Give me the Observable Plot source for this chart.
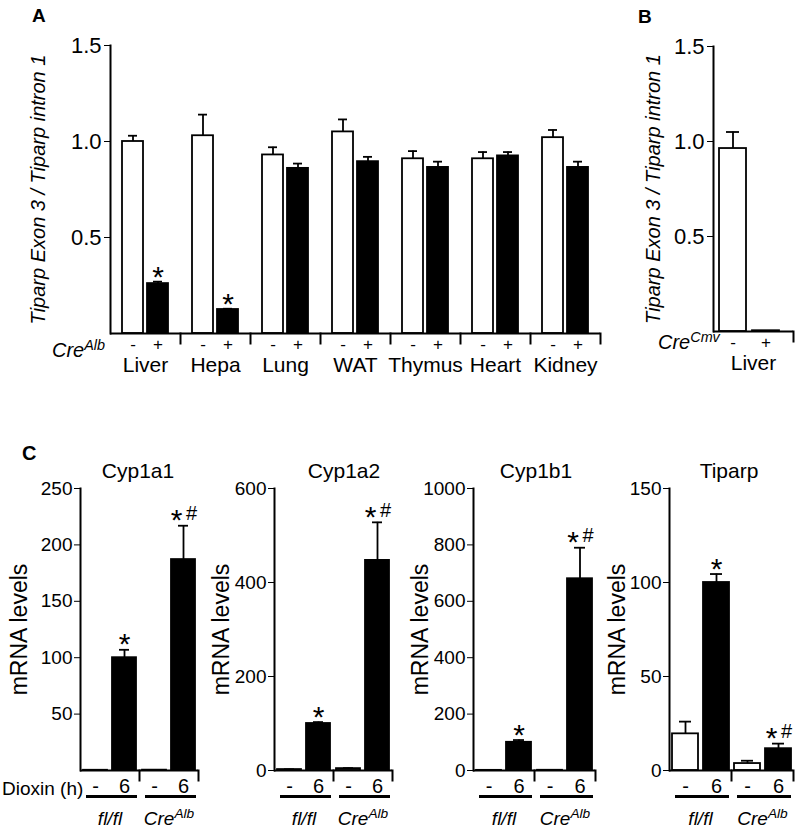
<!DOCTYPE html>
<html><head><meta charset="utf-8">
<script src="https://cdn.jsdelivr.net/npm/d3@7"></script>
<script src="https://cdn.jsdelivr.net/npm/@observablehq/plot@0.6"></script>
<style>
body{margin:0;background:#fff;}
#fig{position:relative;width:800px;height:829px;overflow:hidden;font-family:"Liberation Sans",Arial,Helvetica,sans-serif;color:#000;background:#fff;}
.p{position:absolute;}
.lab{position:absolute;white-space:nowrap;line-height:1;}
.sup{position:relative;font-size:0.72em;top:-0.5em;}
</style></head><body><div id="fig"></div>
<script>
// ---------- Panel A data ----------
const organs = ["Liver","Hepa","Lung","WAT","Thymus","Heart","Kidney"];
const creAlbGroups = ["-","+"];
const aNeg    = [1.00, 1.03, 0.93, 1.05, 0.91, 0.91, 1.02];
const aNegErr = [0.03, 0.11, 0.04, 0.065, 0.04, 0.035, 0.04];
const aPos    = [0.26, 0.125, 0.86, 0.895, 0.865, 0.925, 0.865];
const aPosErr = [0.01, 0.004, 0.025, 0.025, 0.03, 0.02, 0.03];
const aPosStar = ["*","*","","","","",""];
const aTicks = [0.5, 1.0, 1.5];

// ---------- Panel B data ----------
const bTissue = ["Liver"];
const creCmvGroups = ["-","+"];
const bVals = [0.963, 0.004];
const bErr  = [0.087, 0];
const bTicks = [0.5, 1.0, 1.5];

// ---------- Panel C data ----------
const genotypes = ["fl/fl","CreAlb"];
const dioxinH = ["-","6"];
// order: fl/fl -, fl/fl 6, CreAlb -, CreAlb 6
const cyp1a1 = [0.2, 100, 0.3, 187];
const cyp1a1Err = [0, 7, 0, 30];
const cyp1a2 = [2, 100, 4, 447];
const cyp1a2Err = [0.5, 3, 1, 81];
const cyp1b1 = [0.5, 100, 0.8, 680];
const cyp1b1Err = [0, 8, 0, 110];
const tiparp = [19.5, 100, 3.7, 11.6];
const tiparpErr = [6.5, 4.5, 1.5, 2.7];
const cStars = ["", "*", "", "*#"];
const tiparpStars = ["", "*", "", "*#"];
const cyp1a1Ticks = [50,100,150,200,250];
const cyp1a2Ticks = [0,200,400,600];
const cyp1b1Ticks = [0,200,400,600,800,1000];
const tiparpTicks = [0,50,100,150];

const FONT = '"Liberation Sans", Arial, Helvetica, sans-serif';
const fig = document.getElementById("fig");

function place(node, left, top){
  const d = document.createElement("div");
  d.className = "p"; d.style.left = left+"px"; d.style.top = top+"px";
  d.appendChild(node); fig.appendChild(d);
  return node;
}
function label(html, x, y, o = {}){
  const d = document.createElement("div");
  d.className = "lab"; d.innerHTML = html;
  d.style.left = x+"px"; d.style.top = y+"px";
  d.style.fontSize = (o.size||19)+"px";
  if (o.bold) d.style.fontWeight = "bold";
  if (o.italic) d.style.fontStyle = "italic";
  const tx = o.anchor === "middle" ? "-50%" : o.anchor === "end" ? "-100%" : "0";
  d.style.transform = `translate(${tx},-50%)`;
  fig.appendChild(d);
}
function styleAxes(svg, o){
  const s = d3.select(svg);
  s.selectAll('g[aria-label="y-axis label"]').attr("font-size", o.ylabel).attr("font-style", o.italic ? "italic" : null);
  s.selectAll('g[aria-label="y-axis tick label"]').attr("font-size", o.ytick);
  s.selectAll('g[aria-label="x-axis tick label"]').attr("font-size", o.xtick);
  s.selectAll('g[aria-label="fx-axis tick label"]').attr("font-size", o.fxtick);
}
function supFx(svg){
  d3.select(svg).selectAll('g[aria-label="fx-axis tick label"] text').each(function(){
    const t = d3.select(this);
    if (t.text() === "CreAlb") {
      t.text("");
      t.append("tspan").text("Cre");
      t.append("tspan").attr("dy","-0.5em").attr("font-size","0.72em").text("Alb");
    }
  });
}

const baseStyle = {fontFamily: FONT, fontSize: "20px", color: "black", background: "transparent", overflow: "visible"};

// ---------- Panel A ----------
const dataA = organs.flatMap((o,i)=>[
  {organ:o, cre:"-", v:aNeg[i], e:aNegErr[i], star:""},
  {organ:o, cre:"+", v:aPos[i], e:aPosErr[i], star:aPosStar[i]}
]);
const A = Plot.plot({
  width: 615, height: 380, marginLeft: 109, marginRight: 15, marginTop: 45, marginBottom: 47,
  style: baseStyle,
  fx: {domain: organs, padding: 0, axis: null},
  x: {domain: creAlbGroups, paddingInner: 0.16, paddingOuter: 0.48, axis: null},
  y: {domain: [0, 1.5], axis: null},
  marks: [
    Plot.barY(dataA, {fx:"organ", x:"cre", y:"v", fill: d => d.cre === "-" ? "white" : "black", stroke:"black", strokeWidth:1.8}),
    Plot.ruleX(dataA, {fx:"organ", x:"cre", y1:"v", y2: d => d.v + d.e, strokeWidth:1.8}),
    Plot.tickY(dataA, {fx:"organ", x:"cre", y: d => d.v + d.e, insetLeft:6, insetRight:6, strokeWidth:1.8}),
    Plot.text(dataA.filter(d => d.star), {fx:"organ", x:"cre", y: d => d.v + d.e, text:"star", dy:-4, fontSize:30}),
    Plot.ruleY([0], {strokeWidth:2}),
    Plot.frame({anchor:"left", facetAnchor:"left", strokeWidth:2}),
    Plot.frame({anchor:"right", insetTop:288, insetBottom:-10, strokeWidth:2}),
    Plot.axisY({ticks: aTicks, tickFormat: d3.format(".1f"), tickSize:6, tickPadding:3,
      label:"Tiparp Exon 3 / Tiparp intron 1", labelAnchor:"center", labelOffset:80, labelArrow:"none"}),
    Plot.axisX({tickSize:0, tickPadding:4, label:null}),
    Plot.axisFx({anchor:"bottom", tickSize:0, tickPadding:24, label:null})
  ]
});
styleAxes(A, {ylabel:20, italic:true, ytick:22, xtick:17, fxtick:21});
place(A, 0, 0);

// ---------- Panel B ----------
const dataB = creCmvGroups.map((c,i)=>({tissue:bTissue[0], cre:c, v:bVals[i], e:bErr[i]}));
const B = Plot.plot({
  width: 185, height: 380, marginLeft: 98, marginRight: 7, marginTop: 46, marginBottom: 49,
  style: baseStyle,
  fx: {domain: bTissue, padding: 0, axis: null},
  x: {domain: creCmvGroups, paddingInner: 0.18, paddingOuter: 0.3, align: 0.3, axis: null},
  y: {domain: [0, 1.5], axis: null},
  marks: [
    Plot.barY(dataB, {fx:"tissue", x:"cre", y:"v", fill: d => d.cre === "-" ? "white" : "black", stroke:"black", strokeWidth:1.8}),
    Plot.ruleX(dataB.filter(d => d.e > 0), {fx:"tissue", x:"cre", y1:"v", y2: d => d.v + d.e, strokeWidth:1.8}),
    Plot.tickY(dataB.filter(d => d.e > 0), {fx:"tissue", x:"cre", y: d => d.v + d.e, insetLeft:7, insetRight:7, strokeWidth:1.8}),
    Plot.ruleY([0], {strokeWidth:2}),
    Plot.frame({anchor:"left", strokeWidth:2}),
    Plot.frame({anchor:"right", insetTop:285, insetBottom:-10, strokeWidth:2}),
    Plot.axisY({ticks: bTicks, tickFormat: d3.format(".1f"), tickSize:6, tickPadding:3,
      label:"Tiparp Exon 3 / Tiparp intron 1", labelAnchor:"center", labelOffset:68, labelArrow:"none"}),
    Plot.axisX({tickSize:0, tickPadding:4, label:null}),
    Plot.axisFx({anchor:"bottom", tickSize:0, tickPadding:24, label:null})
  ]
});
styleAxes(B, {ylabel:20, italic:true, ytick:22, xtick:17, fxtick:21});
place(B, 615, 0);

// ---------- Panel C ----------
function cPlot(vals, errs, stars, ticks, max, o){
  const data = genotypes.flatMap((g,gi) => dioxinH.map((h,hi) => {
    const k = gi*2 + hi;
    return {geno:g, dx:h, v:vals[k], e:errs[k], star:stars[k]};
  }));
  const withErr = data.filter(d => d.e > 0);
  const svg = Plot.plot({
    width: o.width, height: 389, marginLeft: o.ml, marginRight: o.mr, marginTop: 48, marginBottom: 59,
    style: baseStyle,
    fx: {domain: genotypes, padding: 0, axis: null},
    x: {domain: dioxinH, paddingInner: 0.167, paddingOuter: 0.075, axis: null},
    y: {domain: [0, max], axis: null},
    marks: [
      Plot.barY(data, {fx:"geno", x:"dx", y:"v", fill: d => d.dx === "-" ? "white" : "black", stroke:"black", strokeWidth:1.8}),
      Plot.ruleX(withErr, {fx:"geno", x:"dx", y1:"v", y2: d => d.v + d.e, strokeWidth:1.8}),
      Plot.tickY(withErr, {fx:"geno", x:"dx", y: d => d.v + d.e, insetLeft:7, insetRight:7, strokeWidth:1.8}),
      Plot.text(data.filter(d => d.star === "*"), {fx:"geno", x:"dx", y: d => d.v + d.e, text: () => "*", dy:-5, fontSize:30}),
      Plot.text(data.filter(d => d.star === "*#"), {fx:"geno", x:"dx", y: d => d.v + d.e, text: () => "*", dx:-7, dy:-5, fontSize:30}),
      Plot.text(data.filter(d => d.star === "*#"), {fx:"geno", x:"dx", y: d => d.v + d.e, text: () => "#", dx:8, dy:-12, fontSize:20}),
      Plot.ruleY([0], {strokeWidth:2}),
      Plot.frame({anchor:"left", facetAnchor:"left", strokeWidth:2}),
      Plot.frame({anchor:"right", insetTop:282, insetBottom:-10, strokeWidth:2}),
      Plot.frame({anchor:"bottom", insetBottom:-26, insetLeft:7, insetRight:4, strokeWidth:3}),
      Plot.axisY({ticks, tickFormat: d3.format("d"), tickSize:6, tickPadding:2,
        label:"mRNA levels", labelAnchor:"center", labelOffset:o.lo, labelArrow:"none"}),
      Plot.axisX({tickSize:0, tickPadding:8, label:null}),
      Plot.axisFx({anchor:"bottom", tickSize:0, tickPadding:41, fontStyle:"italic", label:null})
    ]
  });
  styleAxes(svg, {ylabel:23, italic:false, ytick:19, xtick:20, fxtick:19});
  supFx(svg);
  return svg;
}
place(cPlot(cyp1a1, cyp1a1Err, cStars, cyp1a1Ticks, 250, {width:205, ml:79, mr:7, lo:70}), 0, 440);
place(cPlot(cyp1a2, cyp1a2Err, cStars, cyp1a2Ticks, 600, {width:200, ml:68, mr:13, lo:62}), 205, 440);
place(cPlot(cyp1b1, cyp1b1Err, cStars, cyp1b1Ticks, 1000, {width:200, ml:68, mr:10, lo:62}), 405, 440);
place(cPlot(tiparp, tiparpErr, tiparpStars, tiparpTicks, 150, {width:195, ml:64, mr:7, lo:61}), 605, 440);

// ---------- HTML labels ----------
label("A", 32, 15, {size:19, bold:true});
label("B", 638, 16, {size:19, bold:true});
label("C", 22, 453, {size:20, bold:true});
label('Cre<span class="sup">Alb</span>', 52, 350, {size:20, italic:true});
label('Cre<span class="sup">Cmv</span>', 658, 342, {size:20, italic:true});
label("Dioxin (h)", 2, 788, {size:19});
label("Cyp1a1", 138, 470, {size:21, anchor:"middle"});
label("Cyp1a2", 344, 470, {size:21, anchor:"middle"});
label("Cyp1b1", 536, 470, {size:21, anchor:"middle"});
label("Tiparp", 729, 470, {size:21, anchor:"middle"});
</script></body></html>
